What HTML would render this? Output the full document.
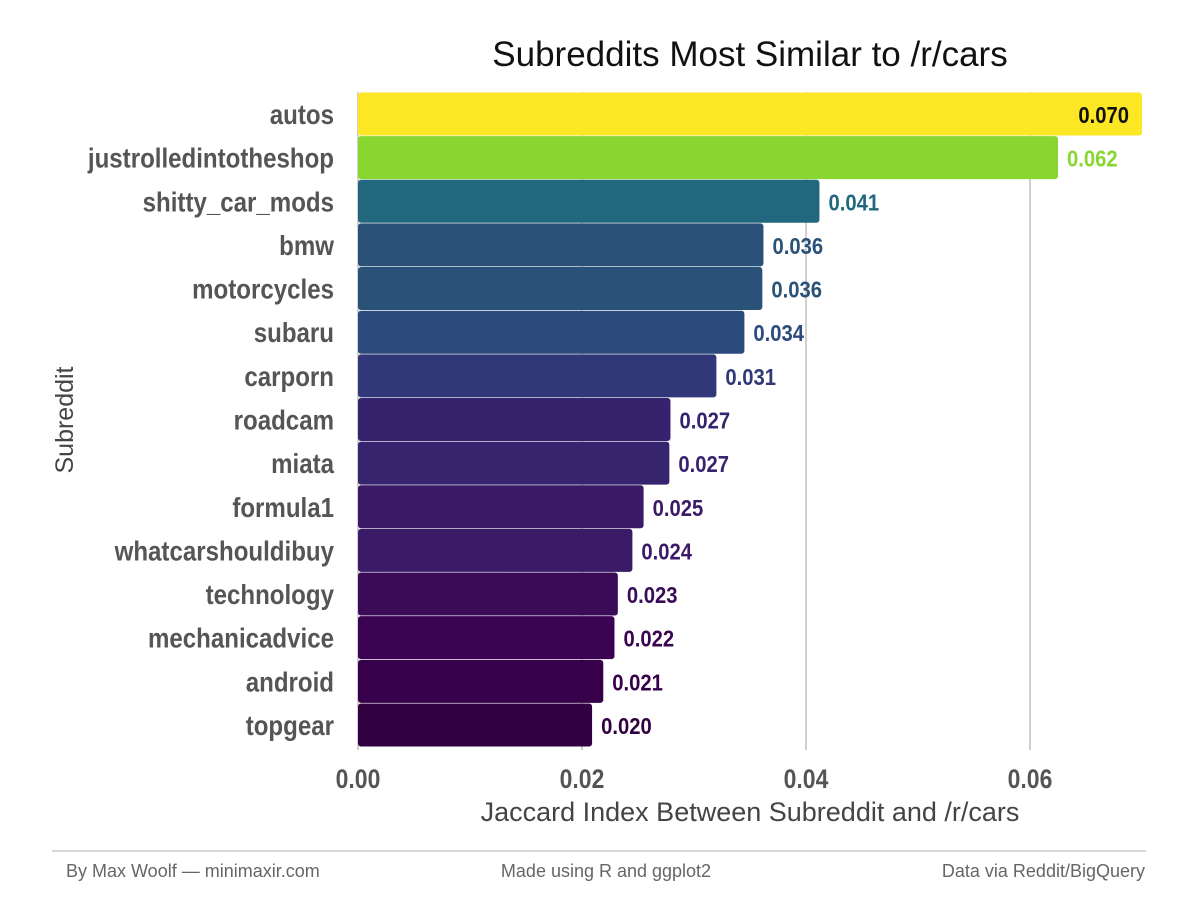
<!DOCTYPE html>
<html><head><meta charset="utf-8"><style>
body{margin:0;background:#fff;}
svg text{font-family:"Liberation Sans",sans-serif;}
</style></head><body>
<svg id="chart" width="1200" height="900" xmlns="http://www.w3.org/2000/svg">
<text x="750" y="66" text-anchor="middle" font-size="35" fill="#111">Subreddits Most Similar to /r/cars</text>
<g id="grid"></g><g id="bars"></g><g id="labels"></g><g id="ticks"></g>
<text x="750" y="821" text-anchor="middle" font-size="27" fill="#444">Jaccard Index Between Subreddit and /r/cars</text>
<text transform="translate(73,420) rotate(-90)" text-anchor="middle" font-size="25" fill="#444">Subreddit</text>
<line x1="52" x2="1146" y1="851" y2="851" stroke="#ccc" stroke-width="1.5"/>
<g font-size="18" fill="#666">
<text x="66" y="877">By Max Woolf — minimaxir.com</text>
<text x="606" y="877" text-anchor="middle">Made using R and ggplot2</text>
<text x="1145" y="877" text-anchor="end">Data via Reddit/BigQuery</text>
</g>
</svg>
<script>
const categories=["autos","justrolledintotheshop","shitty_car_mods","bmw","motorcycles","subaru","carporn","roadcam","miata","formula1","whatcarshouldibuy","technology","mechanicadvice","android","topgear"];
const values=[0.070,0.0625,0.0412,0.0362,0.0361,0.0345,0.032,0.0279,0.0278,0.0255,0.0245,0.0232,0.0229,0.0219,0.0209];
const valueLabels=["0.070","0.062","0.041","0.036","0.036","0.034","0.031","0.027","0.027","0.025","0.024","0.023","0.022","0.021","0.020"];
const barColors=["#fde725","#8ad630","#21687f","#2a5178","#2a5178","#2c4a7c","#30387a","#36236e","#37246f","#3a1966","#3b1a67","#3a0b56","#3a0452","#36004a","#300040"];
const xTicks=[0,0.02,0.04,0.06];
const xTickLabels=["0.00","0.02","0.04","0.06"];
const NS="http://www.w3.org/2000/svg";
const x=v=>358+v*11200;
const y=i=>114+i*43.64;
function mk(tag,attrs,parent){const e=document.createElementNS(NS,tag);for(const k in attrs)e.setAttribute(k,attrs[k]);document.getElementById(parent).appendChild(e);return e;}
xTicks.forEach((t,i)=>{
 const g=mk('line',{x1:x(t),x2:x(t),y1:92,y2:750,stroke:'#d0d0d0','stroke-width':2},'grid');
 
 
 const tx=mk('text',{transform:`translate(${x(t)},788) scale(0.85,1)`,'text-anchor':'middle','font-size':27,'font-weight':'bold',fill:'#555'},'ticks');
 tx.textContent=xTickLabels[i];
 
 
});
categories.forEach((c,i)=>{
 const r=mk('rect',{x:x(0),y:y(i)-21.5,width:x(values[i])-x(0),height:43,rx:3,fill:barColors[i]},'bars');
 
 
 const l=mk('text',{transform:`translate(334,${y(i)+10}) scale(0.86,1)`,'text-anchor':'end','font-size':28,'font-weight':'bold',fill:'#555'},'labels');
 l.textContent=c;
 
 
 const inside=i===0;
 const v=mk('text',{transform:`translate(${inside?x(values[i])-13:x(values[i])+9},${y(i)+9}) scale(0.88,1)`,'text-anchor':inside?'end':'start','font-size':23,'font-weight':'bold',fill:inside?'#111':barColors[i]},'labels');
 v.textContent=valueLabels[i];
 
 
});
</script>
</body></html>
